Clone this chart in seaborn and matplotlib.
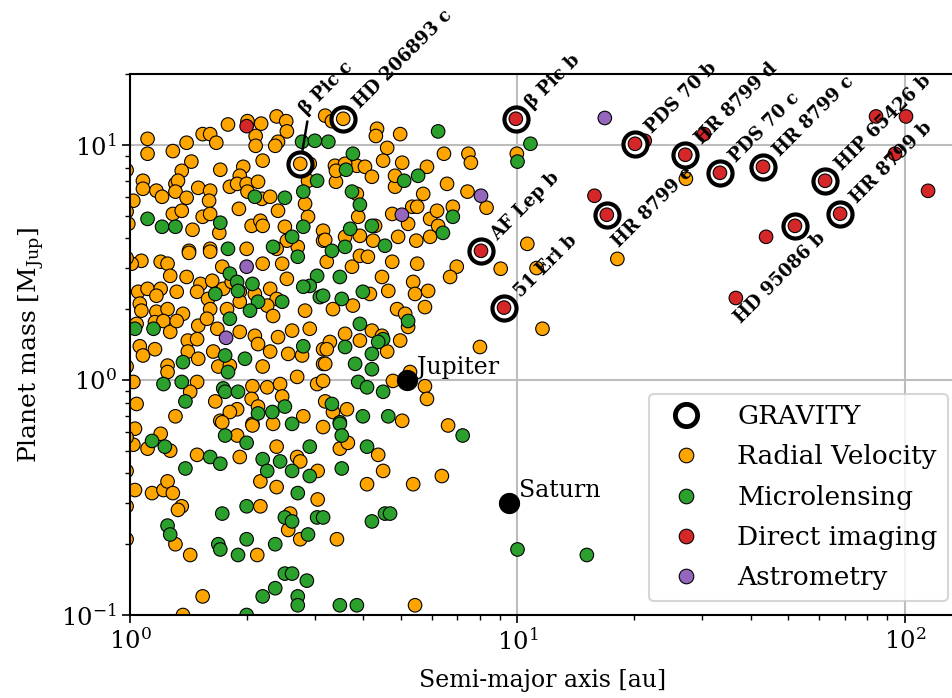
import numpy as np
import pandas as pd
import matplotlib
matplotlib.use("Agg")
import matplotlib.pyplot as plt
from matplotlib.lines import Line2D
import seaborn as sns

# ---------------------------------------------------------------- data
# Radial-velocity planets: semi-major axis [au], mass [M_Jup]
rv_a = [1.11, 1.11, 1.29, 1.40, 1.54, 1.61, 1.67, 1.79, 2.01, 2.18, 2.11, 2.11, 2.39, 2.53, 2.54,
        2.41, 2.37, 2.20, 1.44, 1.36, 1.71, 1.96, 1.92, 1.08, 1.08, 1.17, 1.21, 1.31, 1.33, 1.31,
        1.40, 1.50, 1.61, 1.60, 1.81, 1.89, 2.00, 2.14, 2.01, 2.19, 2.30, 1.02, 1.29, 1.36, 1.45,
        1.54, 1.61, 1.70, 1.91, 2.06, 2.17, 2.20, 2.41, 2.51, 2.88, 2.71, 2.54, 2.39, 3.15, 3.15,
        1.42, 1.61, 2.00, 0.99, 2.91, 2.88, 2.83, 3.19,
        3.32, 4.34, 4.31, 4.98, 4.61, 4.50, 5.04, 5.84, 6.46, 7.47, 7.58, 6.58, 4.83, 3.38, 3.85,
        4.04, 4.21, 3.40, 5.71, 7.43, 3.59, 3.40, 4.83, 8.32, 4.75, 5.35, 5.51, 5.22, 5.95, 6.20,
        6.81, 6.24, 3.88, 3.19, 3.59, 3.92, 4.29, 4.24, 4.92, 5.48, 5.95, 3.85, 9.96, 10.6, 9.05,
        11.2, 18.1, 27.2,
        1.07, 1.20, 1.25, 1.42, 1.61, 1.01, 1.27, 1.40, 1.52, 1.63, 1.73, 2.20, 2.47, 2.54, 1.05,
        1.11, 1.20, 1.17, 1.32, 1.49, 1.59, 1.74, 1.83, 1.92, 2.10, 2.30, 2.39, 1.06, 1.07, 1.17,
        1.25, 1.37, 1.61, 1.78, 1.92, 2.26, 2.34, 2.83, 2.91, 2.62, 1.04, 1.16, 1.22, 1.27, 1.32,
        1.41, 1.50, 1.49, 1.58, 1.68, 1.92, 2.10, 2.14, 2.41, 2.30, 2.56, 2.78, 3.15, 3.15, 1.06,
        1.08, 1.16, 1.25, 1.25, 1.41, 1.50, 1.64, 1.69, 1.81, 2.20, 2.70, 3.04, 1.02, 1.49, 1.43,
        1.66, 2.07, 2.26, 2.44, 2.47, 2.06, 2.14, 1.89, 2.80, 3.19, 1.04, 1.31, 1.71, 1.81, 2.07,
        3.22, 3.74, 3.92, 4.11, 4.75, 5.51, 6.97, 6.70, 4.47, 5.38, 5.44, 5.88, 4.64, 4.16, 3.76,
        3.34, 4.89, 5.13, 5.22, 5.77, 4.21, 3.92, 3.59, 3.28, 3.22, 4.47, 4.61, 4.98, 3.19, 3.15,
        4.77, 5.28, 5.77, 5.84, 3.34, 3.63, 5.04, 6.62, 8.00,
        1.03, 1.20, 1.11, 1.27, 1.49, 1.02, 1.73, 1.89, 2.07, 2.34, 1.92, 2.39, 2.70, 2.75, 3.05,
        3.15, 2.17, 2.39, 1.03, 1.14, 1.22, 1.25, 1.29, 1.36, 1.33, 2.17, 3.05, 2.59, 2.56, 2.75,
        1.31, 1.43, 2.13, 1.54, 1.37,
        3.48, 3.65, 4.37, 4.50, 6.38, 4.09, 5.38, 3.42, 5.44, 11.6,
        0.98, 0.98, 0.98, 0.98, 0.98, 0.98, 0.98, 0.98]
rv_m = [10.6, 9.16, 9.4, 10.2, 11.1, 11.1, 10.2, 12.2, 12.6, 12.3, 10.9, 9.9, 13.2, 12.6, 11.4,
        10.3, 9.9, 8.56, 8.48, 7.75, 7.83, 8.06, 7.38, 7.03, 6.50, 6.38, 6.01, 6.82, 7.03, 6.32,
        5.95, 6.56, 6.38, 5.78, 6.63, 6.82, 6.82, 6.96, 6.32, 5.89, 6.01, 5.78, 5.08, 5.24, 4.35,
        4.94, 5.08, 4.22, 5.34, 4.52, 4.75, 4.52, 5.24, 4.48, 4.94, 3.68, 3.91, 3.61, 4.31, 3.91,
        3.54, 3.61, 3.61, 4.61, 8.30, 7.03, 5.61, 13.3,
        12.6, 11.7, 10.9, 11.1, 9.7, 8.56, 8.39, 8.06, 9.16, 9.16, 8.39, 6.82, 6.63, 8.14, 8.14,
        8.06, 7.31, 6.96, 6.18, 6.32, 8.30, 7.75, 7.38, 5.40, 5.08, 5.45, 5.45, 4.61, 4.84, 5.24,
        5.45, 4.52, 4.94, 3.94, 4.06, 4.10, 4.52, 3.91, 4.06, 3.91, 4.06, 6.18, 9.16, 3.79, 2.97,
        2.99, 3.27, 7.17,
        3.21, 3.18, 3.12, 3.47, 3.51, 3.12, 2.77, 2.74, 2.56, 2.64, 3.03, 3.12, 3.12, 2.69, 2.37,
        2.44, 2.44, 2.28, 2.37, 2.37, 2.21, 2.44, 2.61, 2.37, 2.32, 2.44, 2.21, 2.11, 1.97, 1.95,
        2.00, 1.91, 2.00, 2.00, 2.15, 2.07, 1.87, 1.97, 1.65, 1.62, 1.73, 1.76, 1.78, 1.60, 1.78,
        1.47, 1.70, 1.49, 1.82, 1.65, 1.60, 1.54, 1.42, 1.52, 1.32, 1.29, 1.27, 1.35, 1.17, 1.39,
        1.27, 1.35, 1.15, 1.08, 1.32, 1.23, 1.32, 1.14, 1.15, 1.14, 1.03, 0.96, 0.98, 0.98, 0.89,
        0.81, 0.94, 0.93, 0.96, 0.85, 0.83, 0.77, 0.75, 0.70, 0.81, 0.79, 0.70, 0.67, 0.73, 0.65,
        3.18, 3.03, 3.37, 3.34, 3.18, 3.12, 3.03, 2.74, 2.74, 2.61, 2.32, 2.39, 2.39, 2.32, 2.07,
        2.00, 2.00, 1.91, 1.68, 2.04, 1.62, 1.47, 1.57, 1.45, 1.35, 1.54, 1.32, 1.47, 1.17, 0.99,
        0.99, 1.08, 0.94, 0.83, 0.73, 0.75, 0.67, 0.64, 1.38,
        0.62, 0.59, 0.51, 0.50, 0.48, 0.53, 0.66, 0.58, 0.64, 0.65, 0.47, 0.52, 0.47, 0.45, 0.41,
        0.63, 0.37, 0.35, 0.34, 0.33, 0.34, 0.37, 0.33, 0.29, 0.28, 0.29, 0.31, 0.27, 0.23, 0.21,
        0.20, 0.18, 0.18, 0.12, 0.10,
        0.51, 0.54, 0.48, 0.41, 0.39, 0.36, 0.36, 0.21, 0.11, 1.65,
        7.8, 5.2, 3.3, 1.14, 0.57, 0.41, 0.29, 0.21]

# Microlensing planets
ml_a = [2.78, 3.00, 3.25, 3.04, 2.80, 2.10, 2.51, 1.11, 1.21, 1.31, 1.71, 2.80, 2.62, 2.34, 1.79,
        3.76, 3.61, 5.54, 5.10, 6.24, 3.74, 3.92, 4.21, 3.70, 6.81, 6.42, 4.55, 3.59, 3.32, 10.0,
        10.8, 8.2,
        2.71, 1.81, 1.89, 2.07, 1.90, 1.66, 2.14, 2.47, 2.04, 1.81, 3.04, 2.91, 3.09, 2.80, 1.03,
        1.15, 2.80, 1.76, 1.37, 1.98, 1.79, 1.36, 1.22, 1.39, 1.74, 1.76, 1.90, 2.14, 2.33, 2.51,
        2.62,
        3.48, 3.99, 3.15, 3.52, 5.22, 3.92, 4.50, 4.37, 3.59, 4.21, 3.81, 4.21, 3.88, 4.09, 4.50,
        3.32, 3.99, 4.64, 3.48,
        1.14, 1.23, 1.76, 2.00, 1.61, 1.71, 1.39, 2.20, 2.44, 2.91, 2.26, 2.62, 2.91, 2.71, 1.73,
        2.00, 2.51, 2.62, 3.04, 3.15, 2.88, 1.25, 1.27, 1.69, 1.71, 2.00, 1.90, 2.37, 2.51, 2.62,
        2.86, 2.20, 2.37, 2.71, 2.71, 2.00,
        3.48, 3.52, 4.09, 7.22, 3.52, 4.55, 4.69, 4.21, 3.48, 3.85, 10.0, 15.1]
ml_m = [10.3, 10.4, 10.3, 7.03, 6.32, 6.01, 5.95, 4.84, 4.48, 4.48, 4.66, 4.48, 4.06, 3.68, 3.61,
        9.16, 7.83, 7.38, 7.03, 11.4, 6.32, 5.56, 4.52, 4.39, 4.94, 4.22, 3.72, 3.68, 3.54, 8.48,
        10.1, 3.47,
        3.34, 2.83, 2.61, 2.56, 2.39, 2.32, 2.15, 2.15, 1.97, 1.82, 2.77, 2.51, 2.25, 2.49, 1.65,
        1.65, 1.39, 1.27, 1.19, 1.23, 1.08, 0.98, 0.96, 0.81, 0.92, 0.89, 0.89, 0.72, 0.73, 0.77,
        0.65,
        2.74, 2.37, 2.28, 2.21, 1.78, 1.73, 1.49, 1.45, 1.38, 1.29, 1.17, 1.11, 0.98, 0.93, 0.89,
        0.79, 0.70, 0.70, 0.66,
        0.55, 0.52, 0.58, 0.54, 0.47, 0.44, 0.42, 0.46, 0.45, 0.52, 0.41, 0.41, 0.39, 0.33, 0.27,
        0.29, 0.26, 0.25, 0.26, 0.26, 0.22, 0.24, 0.22, 0.20, 0.19, 0.21, 0.18, 0.20, 0.15, 0.15,
        0.14, 0.12, 0.13, 0.12, 0.11, 0.10,
        0.65, 0.58, 0.52, 0.58, 0.42, 0.27, 0.27, 0.25, 0.11, 0.11, 0.19, 0.18]

# Direct-imaging planets
di_a = [2.0, 15.8, 30.3, 43.8, 36.6, 84.2, 100.6, 94.2, 114.7, 21.3]
di_m = [12.0, 6.07, 11.1, 4.06, 2.23, 13.2, 13.2, 9.16, 6.37, 10.4]

# Astrometry planets
as_a = [16.8, 8.05, 5.03, 2.0, 1.77]
as_m = [13.0, 6.07, 5.04, 3.03, 1.51]

# Planets observed with GRAVITY
grav_names = ["β Pic c", "HD 206893 c", "β Pic b", "AF Lep b", "51 Eri b", "HR 8799 e",
              "PDS 70 b", "HR 8799 d", "PDS 70 c", "HR 8799 c", "HD 95086 b", "HIP 65426 b",
              "HR 8799 b"]
grav_a = [2.75, 3.55, 9.9, 8.05, 9.23, 17.0, 20.1, 27.1, 33.3, 43.0, 52.0, 62.2, 68.0]
grav_m = [8.3, 12.9, 12.9, 3.54, 2.03, 5.04, 10.1, 9.07, 7.6, 8.06, 4.52, 7.03, 5.09]
grav_method = ["Radial Velocity", "Radial Velocity"] + ["Direct imaging"] * 11

# Solar-system giants
solar_names = ["Jupiter", "Saturn"]
solar_a = [5.2, 9.5]
solar_m = [1.0, 0.30]

methods = ["Radial Velocity", "Microlensing", "Direct imaging", "Astrometry"]
colors = {"Radial Velocity": "orange", "Microlensing": "tab:green",
          "Direct imaging": "tab:red", "Astrometry": "tab:purple"}

catalog = pd.concat([
    pd.DataFrame({"a": rv_a, "mass": rv_m, "method": methods[0]}),
    pd.DataFrame({"a": ml_a, "mass": ml_m, "method": methods[1]}),
    pd.DataFrame({"a": di_a, "mass": di_m, "method": methods[2]}),
    pd.DataFrame({"a": as_a, "mass": as_m, "method": methods[3]}),
], ignore_index=True)
gravity = pd.DataFrame({"name": grav_names, "a": grav_a, "mass": grav_m, "method": grav_method})

# ---------------------------------------------------------------- style
sns.set_theme(style="ticks")
plt.rcParams["font.family"] = ["DejaVu Serif"]
plt.rcParams["mathtext.fontset"] = "dejavuserif"
plt.rcParams["axes.edgecolor"] = "black"
plt.rcParams["xtick.color"] = "black"
plt.rcParams["ytick.color"] = "black"
plt.rcParams["text.color"] = "black"
plt.rcParams["axes.labelcolor"] = "black"

W, H = 952, 698
fig = plt.figure(figsize=(W / 100, H / 100), dpi=100)
ax = fig.add_axes([130 / W, 83 / H, 825.5 / W, 541 / H])

# catalogue planets
sns.scatterplot(data=catalog, x="a", y="mass", hue="method", hue_order=methods,
                palette=colors, s=95, edgecolor="black", linewidth=0.8,
                legend=False, ax=ax, zorder=2)

# solar-system planets
sns.scatterplot(x=solar_a, y=solar_m, color="black", s=210, edgecolor="black",
                linewidth=0.8, legend=False, ax=ax, zorder=3)
for name, a, m in zip(solar_names, solar_a, solar_m):
    ax.annotate(name, (a, m), xytext=(10, 6), textcoords="offset pixels",
                fontsize=17, ha="left", va="baseline", zorder=6)

# GRAVITY rings with their planets redrawn on top
sns.scatterplot(data=gravity, x="a", y="mass", color="white", s=300, edgecolor="black",
                linewidth=3.0, legend=False, ax=ax, zorder=4)
sns.scatterplot(data=gravity, x="a", y="mass", hue="method", palette=colors, s=95,
                edgecolor="black", linewidth=0.8, legend=False, ax=ax, zorder=5)

# label placement: offset in pixels and horizontal alignment
placement = {
    "β Pic c": (2, 52, "left"),
    "HD 206893 c": (13, 13, "left"),
    "β Pic b": (13, 13, "left"),
    "AF Lep b": (13, 13, "left"),
    "51 Eri b": (13, 13, "left"),
    "HR 8799 e": (9, -30, "left"),
    "PDS 70 b": (13, 13, "left"),
    "HR 8799 d": (13, 13, "left"),
    "PDS 70 c": (13, 13, "left"),
    "HR 8799 c": (13, 13, "left"),
    "HD 95086 b": (28, -9, "right"),
    "HIP 65426 b": (13, 13, "left"),
    "HR 8799 b": (13, 13, "left"),
}
for name, a, m in zip(grav_names, grav_a, grav_m):
    dx, dy, ha = placement[name]
    kw = {}
    if name == "β Pic c":
        kw["arrowprops"] = dict(arrowstyle="-", color="black", lw=1.8,
                                shrinkA=0, shrinkB=10, relpos=(0.2, 0.0))
    ax.annotate(name, (a, m), xytext=(dx, dy), textcoords="offset pixels",
                rotation=45, rotation_mode="anchor", ha=ha, va="center",
                fontsize=13, fontweight="bold", zorder=7, **kw)

ax.set(xscale="log", yscale="log", xlim=(1, 135), ylim=(0.1, 20))
ax.set_xlabel("Semi-major axis [au]", fontsize=17, labelpad=10)
ax.set_ylabel(r"Planet mass [M$_{\rm Jup}$]", fontsize=18, labelpad=10)
ax.tick_params(axis="both", which="major", labelsize=17.5, length=6, width=1.2)
ax.tick_params(axis="both", which="minor", length=3.5, width=1.0)
for sp in ax.spines.values():
    sp.set_linewidth(1.5)
ax.grid(True, which="major", color="#bdbdbd", linewidth=1.5)
ax.set_axisbelow(True)

handles = [Line2D([], [], ls="", marker="o", ms=16, mfc="white", mec="black", mew=3.5)]
handles += [Line2D([], [], ls="", marker="o", ms=10.5, mfc=colors[m], mec="black", mew=0.8)
            for m in methods]
labels = ["GRAVITY"] + methods
leg = ax.legend(handles, labels, loc="lower right", bbox_to_anchor=(0.991, 0.026),
                borderaxespad=0, fontsize=19, handlelength=2.0, handletextpad=0.95,
                labelspacing=0.58, frameon=True, fancybox=True)
leg.get_frame().set_edgecolor("#cccccc")
leg.get_frame().set_linewidth(1.5)
leg.set_zorder(10)

fig.savefig("out.png", dpi=100)
